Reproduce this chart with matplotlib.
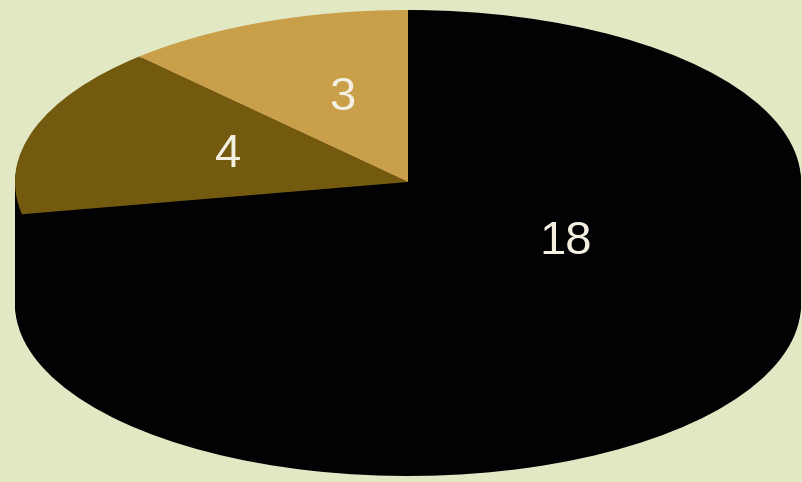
import matplotlib
matplotlib.use("Agg")
import matplotlib.pyplot as plt

# Data
categories = ["A", "B", "C"]
values = [18, 4, 3]
colors = ["#020204", "#735a0e", "#c99f4a"]
side_colors = ["#020204", "#020204", "#020204"]
bg = "#e2e8c4"

W, H = 802, 482
fig = plt.figure(figsize=(W / 100, H / 100), dpi=100, facecolor=bg)
ax = fig.add_axes([0, 0, 1, 1])
ax.set_facecolor(bg)

# pixel geometry of the tilted pie
cx, cy = 408, 182      # apex of top face
a, b = 393, 172        # semi axes
depth_px = 122
depth = depth_px / b

n = 60
for i in range(n, 0, -1):
    off = depth * i / n
    ax.pie(values, colors=side_colors, startangle=90, counterclock=False,
           center=(0, -off), radius=1, frame=True,
           wedgeprops=dict(linewidth=0))

wedges, texts, autotexts = ax.pie(
    values, colors=colors, startangle=90, counterclock=False,
    center=(0, 0), radius=1, frame=True,
    autopct=lambda p: f"{round(p * sum(values) / 100)}", pctdistance=0.5,
    textprops=dict(color="#f3f0e2", fontsize=34, family="Liberation Sans"),
    wedgeprops=dict(linewidth=0))

label_pos = [(0.402, -0.349), (-0.458, 0.157), (-0.168, 0.488)]
for t, p in zip(autotexts, label_pos):
    t.set_position(p)
    t.set_ha("center")
    t.set_va("center")

ax.set_xlim((0 - cx) / a, (W - cx) / a)
ax.set_ylim(-(H - cy) / b, cy / b)
ax.set_aspect("auto")
ax.axis("off")

fig.savefig("out.png", dpi=100, facecolor=bg)
